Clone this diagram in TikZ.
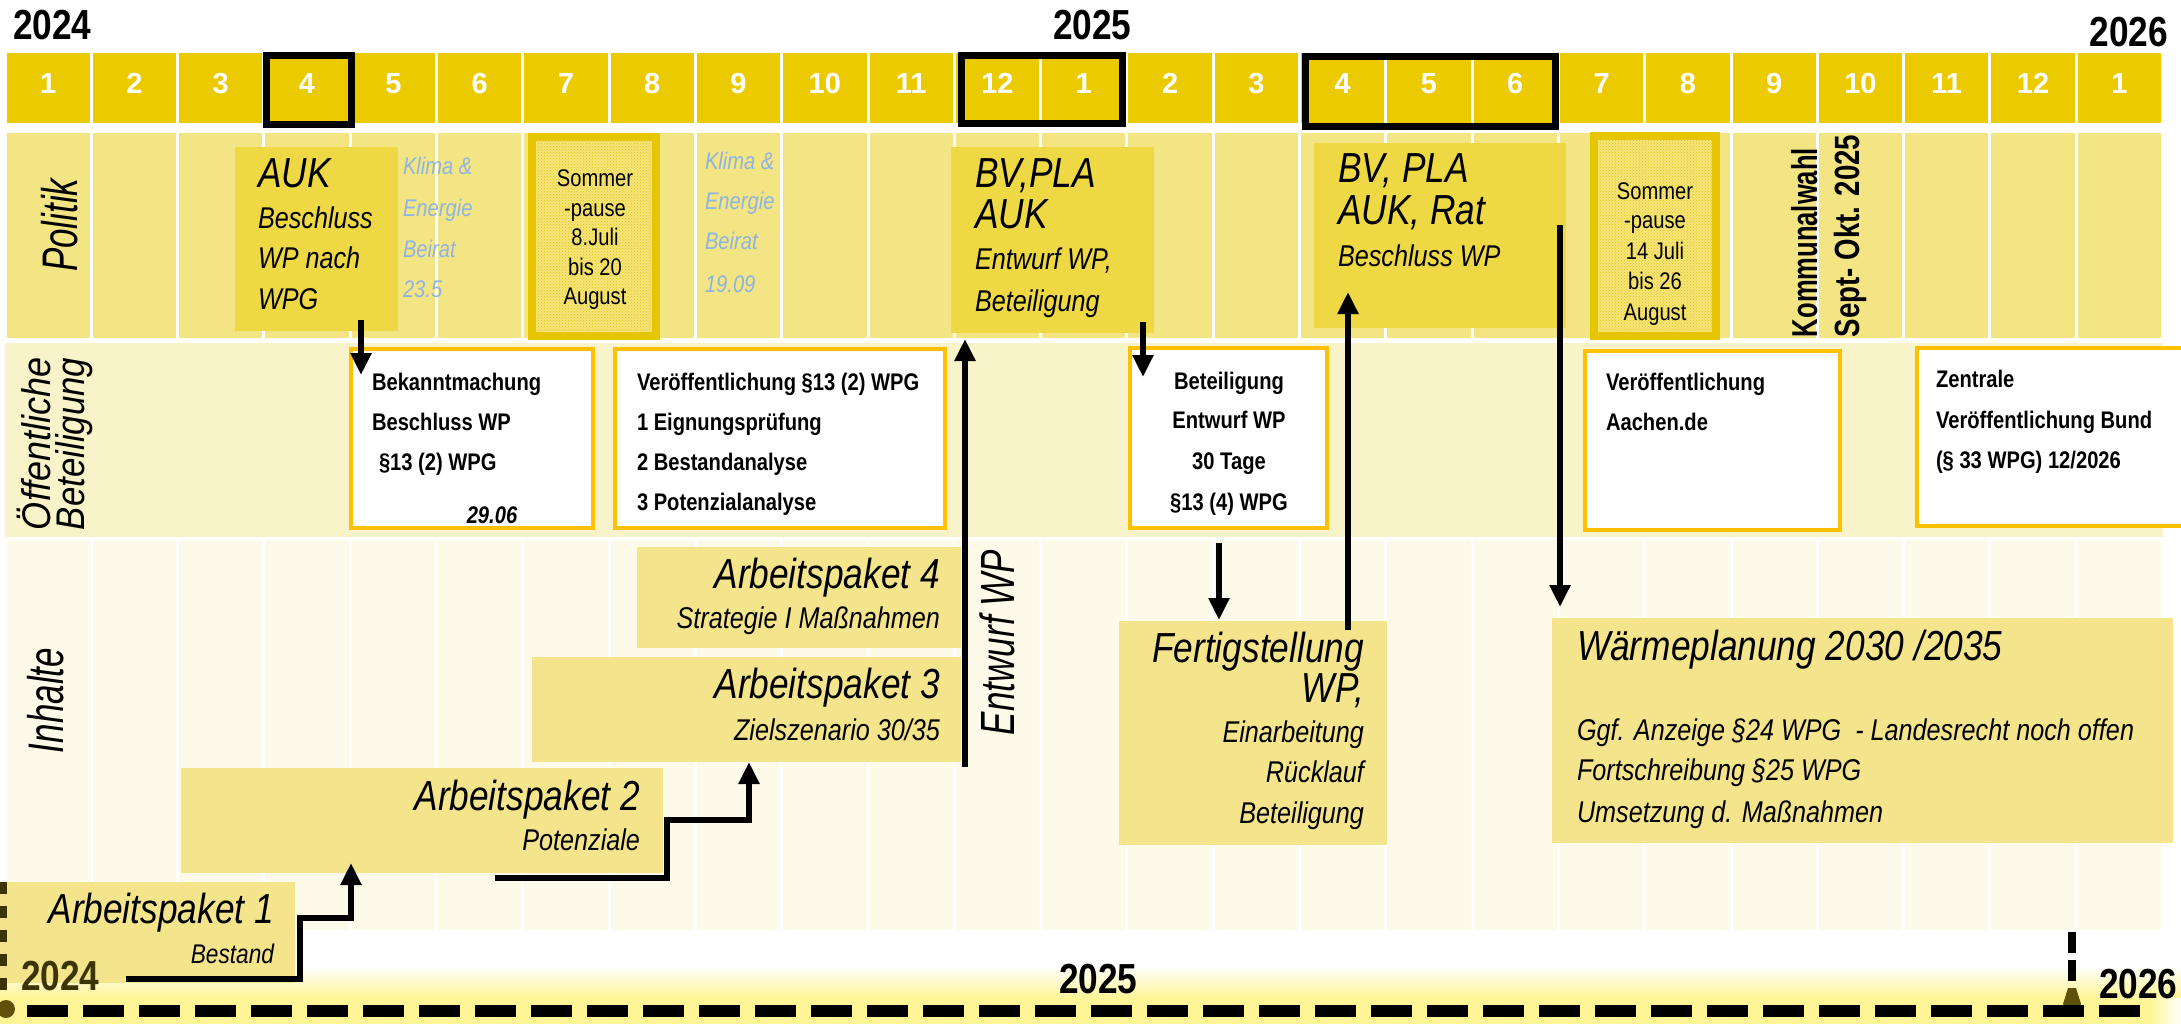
\documentclass[tikz,border=0pt]{standalone}
\usepackage{fontspec}
\usepackage{graphicx}
\setmainfont{Liberation Sans}
\newfontfamily\nar[FakeStretch=0.84]{Liberation Sans}
\usetikzlibrary{arrows.meta,patterns}

\definecolor{hdr}{RGB}{235,203,0}
\definecolor{pol}{RGB}{243,228,132}
\definecolor{polbox}{RGB}{238,216,68}
\definecolor{oeff}{RGB}{249,243,202}
\definecolor{inh}{RGB}{254,250,234}
\definecolor{apbox}{RGB}{244,229,140}
\definecolor{obord}{RGB}{255,192,0}
\definecolor{klima}{RGB}{141,180,226}
\definecolor{somb}{RGB}{230,198,0}
\definecolor{somf}{RGB}{245,228,125}
\definecolor{glow}{RGB}{255,245,150}
\definecolor{olive}{RGB}{95,80,10}
\definecolor{olivetxt}{RGB}{60,52,5}

\begin{document}
\begin{tikzpicture}[x=1pt,y=-1pt,
  txt/.style={inner sep=0pt,outer sep=0pt},
  big/.style={txt,font=\nar\itshape\fontsize{42}{42}\selectfont},
  med/.style={txt,font=\nar\itshape\fontsize{30}{30}\selectfont},
  bld/.style={txt,font=\nar\bfseries\fontsize{24}{24}\selectfont},
  som/.style={txt,font=\nar\fontsize{24}{24}\selectfont,anchor=base},
  kli/.style={txt,font=\nar\itshape\fontsize{24}{24}\selectfont,text=klima,anchor=base west},
  yr/.style={txt,font=\nar\bfseries\fontsize{42}{42}\selectfont},
  num/.style={txt,font=\bfseries\fontsize{29}{29}\selectfont,text=white,anchor=base},
  rot/.style={txt,rotate=90,anchor=base west},
  panel/.style={rectangle,draw=none,inner sep=0pt,outer sep=0pt,anchor=north west},
  obox/.style={panel,draw=obord,line width=4pt,fill=white},
  hframe/.style={draw=black,line width=7pt},
  conn/.style={line width=6.5pt},
  arr/.style={conn,-{Triangle[length=22pt,width=20pt]}}
]
\useasboundingbox (0,0) rectangle (2181,1024);
\fill[white] (0,0) rectangle (2181,1024);

% ---------- grid rows ----------
\foreach \i in {0,...,24}{
  \pgfmathsetmacro\xl{5+\i*86.3+1.5}
  \pgfmathsetmacro\xr{5+(\i+1)*86.3-1.5}
  \fill[hdr] (\xl,53) rectangle (\xr,123);
  \fill[pol] (\xl,133) rectangle (\xr,338);
  \fill[inh] (\xl,540) rectangle (\xr,930);
}
\fill[oeff] (5,343) rectangle (2163,537);

\foreach \m [count=\i from 0] in {1,2,3,4,5,6,7,8,9,10,11,12,1,2,3,4,5,6,7,8,9,10,11,12,1}{
  \node[num] (hn\i) at ({5+(\i+0.5)*86.3},94) {\m};
}

% header frames
\draw[hframe] (266.5,55.2) rectangle (351.5,124.2);
\draw[hframe] (961.5,55.2) rectangle (1122.5,123.8);
\draw[hframe] (1305.5,56.5) rectangle (1555.5,126.5);

% top years
\node[yr,anchor=base west] (y24) at (13,40) {2024};
\node[yr,anchor=base west] (y25) at (1053,40) {2025};
\node[yr,anchor=base east] (y26) at (2168,47) {2026};

% bottom glow
\shade[top color=white,bottom color=glow] (0,966) rectangle (2181,998);
\fill[glow] (0,998) rectangle (2181,1024);
\shade[left color=glow,right color=white] (2150,998) rectangle (2181,1024);

% ---------- Politik row ----------
\node[rot,font=\itshape\fontsize{50}{50}\selectfont] (lpol) at (77,272) {\scalebox{0.7}[1]{Politik}};

\node[panel,fill=polbox,minimum width=163pt,minimum height=184pt] (auk) at (235,147) {};
\node[big,anchor=base west] (auk1) at (258,188) {AUK};
\node[med,anchor=base west] (auk2) at (258,229) {Beschluss};
\node[med,anchor=base west] (auk3) at (258,269) {WP nach};
\node[med,anchor=base west] (auk4) at (258,309) {WPG};

\node[kli] (k1a) at (403,175) {Klima \&};
\node[kli] (k1b) at (403,217) {Energie};
\node[kli] (k1c) at (403,258) {Beirat};
\node[kli] (k1d) at (403,298) {23.5};

\node[panel,draw=somb,line width=8pt,fill=somf,minimum width=124pt,minimum height=199pt] (som1) at (532,137) {};
\fill[pattern=crosshatch dots,pattern color=somb] (536,141) rectangle (652,332);
\node[som] (s1a) at (595,187) {Sommer};
\node[som] (s1b) at (595,217) {-pause};
\node[som] (s1c) at (595,246) {8.Juli};
\node[som] (s1d) at (595,276) {bis 20};
\node[som] (s1e) at (595,305) {August};

\node[kli] (k2a) at (705,170) {Klima \&};
\node[kli] (k2b) at (705,210) {Energie};
\node[kli] (k2c) at (705,250) {Beirat};
\node[kli] (k2d) at (705,292) {19.09};

\node[panel,fill=polbox,minimum width=203pt,minimum height=186pt] (bv1) at (951,147) {};
\node[big,anchor=base west] (bv1a) at (975,188) {BV,PLA};
\node[big,anchor=base west] (bv1b) at (975,229) {AUK};
\node[med,anchor=base west] (bv1c) at (975,270) {Entwurf WP,};
\node[med,anchor=base west] (bv1d) at (975,312) {Beteiligung};

\node[panel,fill=polbox,minimum width=252pt,minimum height=185pt] (bv2) at (1314,143) {};
\node[big,anchor=base west] (bv2a) at (1338,183) {BV, PLA};
\node[big,anchor=base west] (bv2b) at (1338,225) {AUK, Rat};
\node[med,anchor=base west] (bv2c) at (1338,267) {Beschluss WP};

\node[panel,draw=somb,line width=8pt,fill=somf,minimum width=122pt,minimum height=200pt] (som2) at (1594,136) {};
\fill[pattern=crosshatch dots,pattern color=somb] (1598,140) rectangle (1712,332);
\node[som] (s2a) at (1655,200) {Sommer};
\node[som] (s2b) at (1655,229) {-pause};
\node[som] (s2c) at (1655,260) {14 Juli};
\node[som] (s2d) at (1655,290) {bis 26};
\node[som] (s2e) at (1655,320) {August};

\node[rot,font=\bfseries\fontsize{36}{36}\selectfont] (kw) at (1817,337) {\scalebox{0.71}[1]{Kommunalwahl}};
\node[rot,font=\bfseries\fontsize{35}{35}\selectfont] (so) at (1859,337) {\scalebox{0.79}[1]{Sept- Okt. 2025}};

% ---------- Oeffentliche Beteiligung row ----------
\node[rot,font=\itshape\fontsize{40}{40}\selectfont] (loe1) at (50,530) {\scalebox{0.9}[1]{Öffentliche}};
\node[rot,font=\itshape\fontsize{40}{40}\selectfont] (loe2) at (84,530) {\scalebox{0.87}[1]{Beteiligung}};

\node[obox,minimum width=242pt,minimum height=179pt] (ob1) at (351,349) {};
\node[bld,anchor=base west] (ob1a) at (372,390) {Bekanntmachung};
\node[bld,anchor=base west] (ob1b) at (372,430) {Beschluss WP};
\node[bld,anchor=base west] (ob1c) at (379,470) {§13 (2) WPG};
\node[bld,font=\nar\bfseries\itshape\fontsize{24}{24}\selectfont,anchor=base] (ob1d) at (492,523) {29.06};

\node[obox,minimum width=330pt,minimum height=179pt] (ob2) at (615,349) {};
\node[bld,anchor=base west] (ob2a) at (637,390) {Veröffentlichung §13 (2) WPG};
\node[bld,anchor=base west] (ob2b) at (637,430) {1 Eignungsprüfung};
\node[bld,anchor=base west] (ob2c) at (637,470) {2 Bestandanalyse};
\node[bld,anchor=base west] (ob2d) at (637,510) {3 Potenzialanalyse};

\node[obox,minimum width=197pt,minimum height=180pt] (ob3) at (1130,348) {};
\node[bld,anchor=base] (ob3a) at (1229,389) {Beteiligung};
\node[bld,anchor=base] (ob3b) at (1229,428) {Entwurf WP};
\node[bld,anchor=base] (ob3c) at (1229,469) {30 Tage};
\node[bld,anchor=base] (ob3d) at (1229,510) {§13 (4) WPG};

\node[obox,minimum width=255pt,minimum height=179pt] (ob4) at (1585,351) {};
\node[bld,anchor=base west] (ob4a) at (1606,390) {Veröffentlichung};
\node[bld,anchor=base west] (ob4b) at (1606,430) {Aachen.de};

\node[obox,minimum width=290pt,minimum height=178pt] (ob5) at (1917,348) {};
\node[bld,anchor=base west] (ob5a) at (1936,387) {Zentrale};
\node[bld,anchor=base west] (ob5b) at (1936,428) {Veröffentlichung Bund};
\node[bld,anchor=base west] (ob5c) at (1936,468) {(§ 33 WPG) 12/2026};

% ---------- Inhalte row ----------
\node[rot,font=\itshape\fontsize{50}{50}\selectfont] (linh) at (63,753) {\scalebox{0.7}[1]{Inhalte}};

\node[panel,fill=apbox,minimum width=324pt,minimum height=101pt] (ap4) at (637,547) {};
\node[big,anchor=base east] (ap4a) at (940,588) {Arbeitspaket 4};
\node[med,anchor=base east] (ap4b) at (940,628) {Strategie I Maßnahmen};

\node[panel,fill=apbox,minimum width=429pt,minimum height=105pt] (ap3) at (532,657) {};
\node[big,anchor=base east] (ap3a) at (940,698) {Arbeitspaket 3};
\node[med,anchor=base east] (ap3b) at (940,740) {Zielszenario 30/35};

\node[panel,fill=apbox,minimum width=482pt,minimum height=105pt] (ap2) at (181,768) {};
\node[big,anchor=base east] (ap2a) at (640,810) {Arbeitspaket 2};
\node[med,anchor=base east] (ap2b) at (640,850) {Potenziale};

\node[panel,fill=apbox,minimum width=295pt,minimum height=101pt] (ap1) at (0,882) {};
\node[big,anchor=base east] (ap1a) at (274,923) {Arbeitspaket 1};
\node[med,font=\nar\itshape\fontsize{27}{27}\selectfont,anchor=base east] (ap1b) at (274,963) {Bestand};

\node[rot,font=\itshape\fontsize{48}{48}\selectfont] (lent) at (1014,735) {\scalebox{0.73}[1]{Entwurf WP}};

\node[panel,fill=apbox,minimum width=268pt,minimum height=224pt] (fert) at (1119,621) {};
\node[big,anchor=base east] (ft1) at (1364,662) {Fertigstellung};
\node[big,anchor=base east] (ft2) at (1364,702) {WP,};
\node[med,anchor=base east] (ft3) at (1364,742) {Einarbeitung};
\node[med,anchor=base east] (ft4) at (1364,782) {Rücklauf};
\node[med,anchor=base east] (ft5) at (1364,823) {Beteiligung};

\node[panel,fill=apbox,minimum width=621pt,minimum height=225pt] (wp) at (1552,618) {};
\node[big,anchor=base west] (wp1) at (1577,660) {Wärmeplanung 2030 /2035};
\node[med,anchor=base west] (wp2) at (1577,740) {Ggf. Anzeige §24 WPG \ - Landesrecht noch offen};
\node[med,anchor=base west] (wp3) at (1577,780) {Fortschreibung §25 WPG};
\node[med,anchor=base west] (wp4) at (1577,822) {Umsetzung d. Maßnahmen};

% ---------- connectors ----------
\coordinate (c1s) at (126,979);
\coordinate (c1k) at (300,918);
\coordinate (c1e) at (351,863);
\draw[arr] (c1s) -| (c1k) -| (c1e);

\coordinate (c2s) at (495,878);
\coordinate (c2k) at (667,820);
\coordinate (c2e) at (749,762);
\draw[arr] (c2s) -| (c2k) -| (c2e);

\coordinate (c3s) at (965,767);
\coordinate (c3e) at (965,339);
\draw[arr] (c3s) -- (c3e);

\coordinate (c4s) at (361,320);
\coordinate (c4e) at (361,375);
\draw[arr] (c4s) -- (c4e);

\coordinate (c5s) at (1143,322);
\coordinate (c5e) at (1143,377);
\draw[arr] (c5s) -- (c5e);

\coordinate (c6s) at (1219,543);
\coordinate (c6e) at (1219,620);
\draw[arr] (c6s) -- (c6e);

\coordinate (c7s) at (1348,630);
\coordinate (c7e) at (1348,292);
\draw[arr] (c7s) -- (c7e);

\coordinate (c8s) at (1560,225);
\coordinate (c8e) at (1560,607);
\draw[arr] (c8s) -- (c8e);

% ---------- bottom timeline ----------
\coordinate (lv0) at (3,882);
\coordinate (lv1) at (3,992);
\draw[olivetxt,line width=7pt,dash pattern=on 12pt off 12pt] (lv0) -- (lv1);
\fill[olive] (6,1009) circle (9pt);

\coordinate (rv0) at (2072,932);
\coordinate (rv1) at (2072,1000);
\draw[line width=8pt,dash pattern=on 21pt off 7pt] (rv0) -- (rv1);
\fill[olive] (2068,988) -- (2076,988) -- (2081,1004) -- (2063,1004) -- cycle;
\fill[olive] (2072,1006) circle (9pt);

\coordinate (tl0) at (27,1011);
\coordinate (tl1) at (2147,1011);
\draw[line width=12pt,dash pattern=on 41pt off 15pt] (tl0) -- (tl1);

\node[yr,anchor=base west,text=olivetxt] (b24) at (21,990) {2024};
\node[yr,anchor=base west] (b25) at (1059,993) {2025};
\node[yr,anchor=base west] (b26) at (2099,998) {2026};
\end{tikzpicture}
\end{document}
